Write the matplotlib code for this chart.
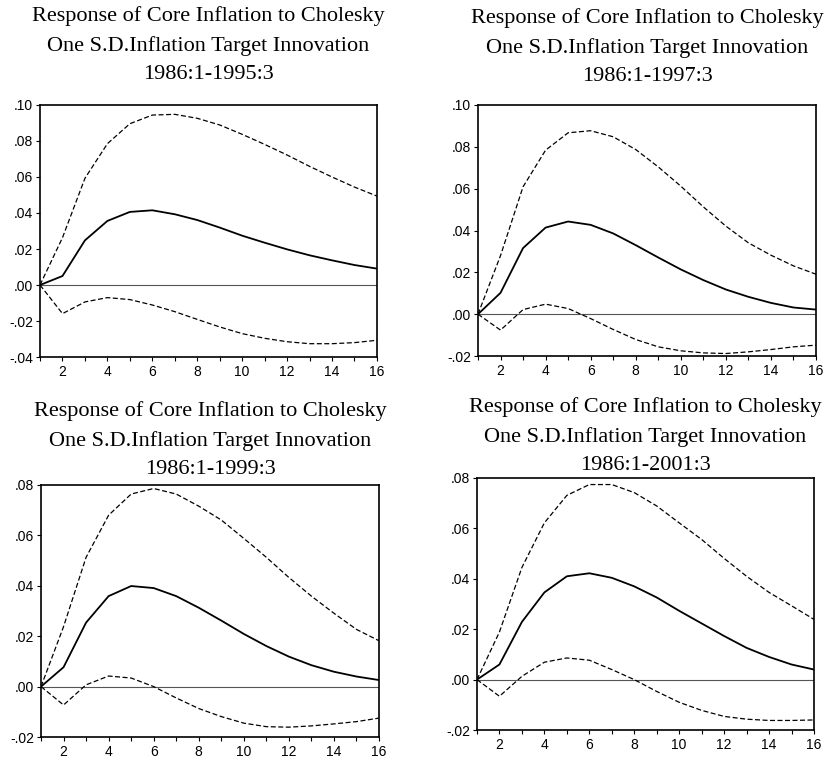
#!/usr/bin/env python3

import matplotlib
matplotlib.use("Agg")
import matplotlib.pyplot as plt
import numpy as np

# horizon 1..16
periods = list(range(1, 17))

titles = ["1986:1-1995:3", "1986:1-1997:3", "1986:1-1999:3", "1986:1-2001:3"]

# panel 1: 1986:1-1995:3
resp_1 = [0.0, 0.0050, 0.0248, 0.0356, 0.0406, 0.0415, 0.0393, 0.0361,
          0.0319, 0.0274, 0.0235, 0.0198, 0.0165, 0.0137, 0.0111, 0.0091]
upper_1 = [0.0, 0.0263, 0.0593, 0.0785, 0.0896, 0.0944, 0.0948, 0.0926,
           0.0889, 0.0837, 0.0781, 0.0722, 0.0659, 0.0600, 0.0544, 0.0494]
lower_1 = [0.0, -0.0159, -0.0094, -0.0070, -0.0081, -0.0111, -0.0148, -0.0191,
           -0.0233, -0.0270, -0.0296, -0.0315, -0.0326, -0.0326, -0.0320, -0.0307]

# panel 2: 1986:1-1997:3
resp_2 = [0.0, 0.0102, 0.0316, 0.0414, 0.0443, 0.0427, 0.0386, 0.0330,
          0.0271, 0.0214, 0.0163, 0.0118, 0.0083, 0.0054, 0.0032, 0.0022]
upper_2 = [0.0, 0.0280, 0.0609, 0.0784, 0.0867, 0.0877, 0.0848, 0.0787,
           0.0704, 0.0612, 0.0513, 0.0421, 0.0341, 0.0282, 0.0231, 0.0191]
lower_2 = [0.0, -0.0076, 0.0022, 0.0048, 0.0027, -0.0021, -0.0073, -0.0121,
           -0.0156, -0.0175, -0.0185, -0.0188, -0.0180, -0.0169, -0.0156, -0.0148]

# panel 3: 1986:1-1999:3
resp_3 = [0.0, 0.0077, 0.0254, 0.0359, 0.0399, 0.0391, 0.0359, 0.0313,
          0.0262, 0.0209, 0.0161, 0.0119, 0.0085, 0.0059, 0.0040, 0.0026]
upper_3 = [0.0, 0.0238, 0.0513, 0.0680, 0.0764, 0.0786, 0.0764, 0.0716,
           0.0661, 0.0588, 0.0513, 0.0433, 0.0359, 0.0291, 0.0227, 0.0182]
lower_3 = [0.0, -0.0073, 0.0007, 0.0042, 0.0034, 0.0000, -0.0045, -0.0087,
           -0.0119, -0.0145, -0.0159, -0.0161, -0.0156, -0.0148, -0.0139, -0.0125]

# panel 4: 1986:1-2001:3
resp_4 = [0.0, 0.0060, 0.0229, 0.0346, 0.0410, 0.0422, 0.0404, 0.0370,
          0.0326, 0.0273, 0.0223, 0.0173, 0.0126, 0.0090, 0.0060, 0.0040]
upper_4 = [0.0, 0.0189, 0.0445, 0.0622, 0.0731, 0.0774, 0.0774, 0.0742,
           0.0689, 0.0622, 0.0556, 0.0481, 0.0410, 0.0346, 0.0293, 0.0239]
lower_4 = [0.0, -0.0066, 0.0013, 0.0069, 0.0086, 0.0077, 0.0040, 0.0000,
           -0.0047, -0.0090, -0.0122, -0.0146, -0.0157, -0.0162, -0.0162, -0.0160]

ylims = [(-0.04, 0.10), (-0.02, 0.10), (-0.02, 0.08), (-0.02, 0.08)]
yticks = [[-0.04, -0.02, 0.0, 0.02, 0.04, 0.06, 0.08, 0.10],
          [-0.02, 0.0, 0.02, 0.04, 0.06, 0.08, 0.10],
          [-0.02, 0.0, 0.02, 0.04, 0.06, 0.08],
          [-0.02, 0.0, 0.02, 0.04, 0.06, 0.08]]

# axes boxes [left, bottom, width, height] in figure fractions
boxes = [[0.0477, 0.529, 0.4016, 0.3325],
         [0.5697, 0.5303, 0.4029, 0.3312],
         [0.0489, 0.0277, 0.4028, 0.3325],
         [0.5685, 0.0369, 0.4017, 0.3325]]
title_mid = [45, 47, 440, 436]  # pixel row of the middle title line

series = [(resp_1, upper_1, lower_1), (resp_2, upper_2, lower_2),
          (resp_3, upper_3, lower_3), (resp_4, upper_4, lower_4)]


def fmt(v):
    s = "%.2f" % v
    if s.startswith("-0"):
        return "-" + s[2:]
    if s.startswith("0"):
        return s[1:]
    return s


fig = plt.figure(figsize=(8.39, 7.58), dpi=100)

for i in range(4):
    ax = fig.add_axes(boxes[i])
    resp, up, lo = series[i]
    ax.axhline(0, color="#555555", lw=0.8)
    ax.plot(periods, up, color="black", lw=0.9, ls=(0, (4, 2)))
    ax.plot(periods, lo, color="black", lw=0.9, ls=(0, (4, 2)))
    ax.plot(periods, resp, color="black", lw=1.3)
    ax.set_xlim(1, 16)
    ax.set_ylim(*ylims[i])
    ax.set_xticks(periods)
    ax.set_xticklabels([str(p) if p % 2 == 0 else "" for p in periods])
    ax.set_yticks(yticks[i])
    ax.set_yticklabels([fmt(v) for v in yticks[i]])
    ax.tick_params(direction="out", length=3, width=0.8, labelsize=10, pad=2)
    ax.tick_params(axis="x", pad=2.5)
    for lab in ax.get_xticklabels() + ax.get_yticklabels():
        lab.set_family("Liberation Sans")
    for sp in ax.spines.values():
        sp.set_linewidth(1.2)
    cx = boxes[i][0] + boxes[i][2] / 2
    fig.text(cx, 1 - title_mid[i] / 758,
             "Response of Core Inflation to Cholesky\n"
             "One S.D.Inflation Target Innovation\n" + titles[i],
             ha="center", va="center", family="Liberation Serif",
             fontsize=16, linespacing=1.65)

fig.savefig("out.png", dpi=100)
